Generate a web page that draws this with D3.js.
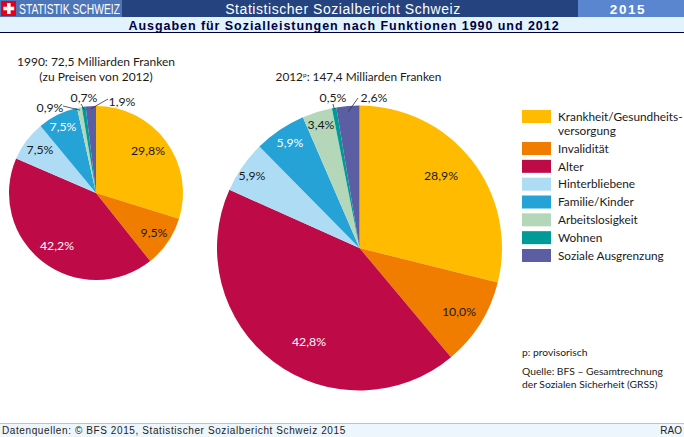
<!DOCTYPE html>
<html>
<head>
<meta charset="utf-8">
<script src="https://cdn.jsdelivr.net/npm/d3@7"></script>
<style>
  html, body { margin: 0; padding: 0; background: #fff; }
  svg { display: block; }
  text { font-family: Lato, sans-serif; }
  .head { font-family: "Liberation Sans", Arial, sans-serif; }
</style>
</head>
<body>
<svg id="chart" width="684" height="437"></svg>
<script>
const categories = ['Krankheit/Gesundheitsversorgung', 'Invalidität', 'Alter', 'Hinterbliebene',
  'Familie/Kinder', 'Arbeitslosigkeit', 'Wohnen', 'Soziale Ausgrenzung'];
const colors = ['#ffbb00', '#f07d00', '#be0a46', '#aedcf5', '#25a2d6', '#b4d7b9', '#009a98', '#5b5ea2'];
const values1990 = [29.8, 9.5, 42.2, 7.5, 7.5, 0.9, 0.7, 1.9];
const values2012 = [28.9, 10.0, 42.8, 5.9, 5.9, 3.4, 0.5, 2.6];
const legendLines = [['Krankheit/Gesundheits-', 'versorgung'], ['Invalidität'], ['Alter'], ['Hinterbliebene'],
  ['Familie/Kinder'], ['Arbeitslosigkeit'], ['Wohnen'], ['Soziale Ausgrenzung']];

const svg = d3.select('#chart');
const fmt = v => v.toFixed(1).replace('.', ',') + '%';

// header and footer bands
svg.append('rect').attr('width', 684).attr('height', 17).attr('fill', '#24437f');
svg.append('rect').attr('width', 122).attr('height', 17).attr('fill', '#4d76b8');
svg.append('rect').attr('x', 1).attr('y', 1).attr('width', 15).attr('height', 15).attr('fill', '#e2001a');
svg.append('rect').attr('x', 7).attr('y', 3).attr('width', 3.6).attr('height', 11).attr('fill', '#fff');
svg.append('rect').attr('x', 3.4).attr('y', 6.7).attr('width', 10.8).attr('height', 3.6).attr('fill', '#fff');
svg.append('rect').attr('x', 578).attr('width', 106).attr('height', 17).attr('fill', '#5a86d0');
svg.append('rect').attr('y', 17).attr('width', 684).attr('height', 15).attr('fill', '#e2f3fd');
svg.append('rect').attr('y', 32).attr('width', 684).attr('height', 1).attr('fill', '#000040');
svg.append('rect').attr('y', 423).attr('width', 684).attr('height', 14).attr('fill', '#eef6fd');
svg.append('rect').attr('y', 423).attr('width', 684).attr('height', 1).attr('fill', '#b9c4cf');

function headText(x, y, str, size, fill, anchor, weight, spacing) {
  return svg.append('text').attr('class', 'head')
    .attr('x', x).attr('y', y)
    .attr('text-anchor', anchor)
    .attr('fill', fill)
    .style('font-size', size + 'px')
    .style('font-weight', weight)
    .style('letter-spacing', spacing + 'px')
    .text(str);
}
headText(19, 14, 'STATISTIK SCHWEIZ', 14, '#fff', 'start', 400, 0)
  .attr('textLength', 101).attr('lengthAdjust', 'spacingAndGlyphs');
headText(343, 14, 'Statistischer Sozialbericht Schweiz', 14, '#fff', 'middle', 400, 0.55);
headText(628, 14, '2015', 13.5, '#fff', 'middle', 700, 1.6);
headText(344, 30, 'Ausgaben für Sozialleistungen nach Funktionen 1990 und 2012', 12.5, '#000040', 'middle', 700, 0.95);
headText(2, 434, 'Datenquellen: © BFS 2015, Statistischer Sozialbericht Schweiz 2015', 10, '#222', 'start', 400, 0.6);
headText(682, 434, 'RAO', 10, '#222', 'end', 400, 0);

const pie = d3.pie().sort(null).value(d => d);

function drawPie(values, cx, cy, r, labelAt, leaders) {
  const g = svg.append('g').attr('transform', `translate(${cx},${cy})`);
  const arc = d3.arc().innerRadius(0).outerRadius(r);
  const arcs = pie(values);
  g.selectAll('path').data(arcs).enter().append('path')
    .attr('d', arc)
    .attr('fill', (d, i) => colors[i]);

  const leaderG = g.append('g');
  leaders.forEach(l => {
    const a = arcs[l.i];
    const mid = (a.startAngle + a.endAngle) / 2 - Math.PI / 2;
    leaderG.append('line')
      .attr('x1', Math.cos(mid) * r * l.k).attr('y1', Math.sin(mid) * r * l.k)
      .attr('x2', l.to[0] - cx).attr('y2', l.to[1] - cy)
      .attr('stroke', '#333').attr('stroke-width', 0.8);
  });

  g.selectAll('text').data(arcs).enter().append('text')
    .attr('x', (d, i) => labelAt[i][0] - cx)
    .attr('y', (d, i) => labelAt[i][1] - cy + 4.5)
    .attr('text-anchor', 'middle')
    .attr('fill', (d, i) => [0, 1, 3, 5].includes(i) || labelAt[i][2] ? '#1a1a1a' : '#fff')
    .style('font-size', '12.3px')
    .text(d => fmt(d.data));
}

drawPie(values1990, 96, 193, 87,
  [[148, 150], [154, 232], [57, 245], [40, 149, 1], [63, 126], [50, 107, 1], [84, 97, 1], [122, 101, 1]],
  [{ i: 5, k: 0.97, to: [63, 106] }, { i: 6, k: 0.97, to: [81, 104] }, { i: 7, k: 0.97, to: [108, 99] }]);
drawPie(values2012, 359.5, 248, 142.5,
  [[441, 175], [459, 311], [309, 341], [252, 175, 1], [290, 142], [321, 124], [333, 97, 1], [374, 97, 1]],
  [{ i: 6, k: 0.99, to: [333, 104] }, { i: 7, k: 0.96, to: [358, 98] }]);

function bodyText(x, y, str, size, anchor) {
  return svg.append('text').attr('x', x).attr('y', y)
    .attr('text-anchor', anchor || 'start')
    .attr('fill', '#1a1a1a')
    .style('font-size', size + 'px')
    .text(str);
}
bodyText(96, 66, '1990: 72,5 Milliarden Franken', 12, 'middle');
bodyText(96, 81, '(zu Preisen von 2012)', 12, 'middle');
const t2012 = bodyText(358.5, 81, '2012', 11.8, 'middle');
t2012.append('tspan').attr('dy', -4).style('font-size', '6.5px').text('p');
t2012.append('tspan').attr('dy', 4).text(': 147,4 Milliarden Franken');

// legend: first row is two lines high, the others follow evenly
const legendY = d3.scaleLinear().domain([1, 7]).range([142, 249]);
const legend = svg.append('g');
categories.forEach((c, i) => {
  const y = i === 0 ? 110 : legendY(i);
  legend.append('rect')
    .attr('x', 522).attr('y', y)
    .attr('width', 29).attr('height', 13)
    .attr('fill', colors[i]);
  legendLines[i].forEach((line, j) => {
    bodyText(558, y + 10.7 + j * 14.6, line, 11.8);
  });
});

bodyText(522, 356, 'p: provisorisch', 10.3);
bodyText(522, 375, 'Quelle: BFS – Gesamtrechnung', 10.3);
bodyText(522, 387.5, 'der Sozialen Sicherheit (GRSS)', 10.3);
</script>
</body>
</html>
